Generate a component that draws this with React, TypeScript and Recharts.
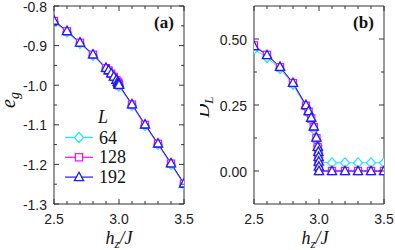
import React from 'react';
import { LineChart, Line, XAxis, YAxis, Legend } from 'recharts';

// ---------- data ----------
const hz = [2.5, 2.6, 2.7, 2.8, 2.9, 2.92, 2.94, 2.96, 2.98, 2.99, 2.995, 2.997, 2.998, 2.999, 3.0, 3.1, 3.2, 3.3, 3.4, 3.5];
const sizeNames = ['64', '128', '192'];

const eg64 = [-0.84, -0.866, -0.895, -0.925, -0.959, -0.966, -0.973, -0.981, -0.989, -0.994, -0.997, -0.999, -1.0, -1.001, -1.002, -1.051, -1.102, -1.15, -1.2, -1.251];
const eg128 = [-0.838, -0.864, -0.893, -0.923, -0.957, -0.963, -0.971, -0.979, -0.987, -0.992, -0.995, -0.997, -0.998, -0.999, -1.0, -1.049, -1.1, -1.148, -1.198, -1.249];
const eg192 = [-0.837, -0.863, -0.892, -0.922, -0.956, -0.962, -0.97, -0.978, -0.986, -0.991, -0.994, -0.996, -0.997, -0.998, -0.999, -1.048, -1.099, -1.147, -1.197, -1.248];

const dl64 = [0.461, 0.43, 0.388, 0.328, 0.242, 0.218, 0.192, 0.158, 0.118, 0.095, 0.08, 0.065, 0.05, 0.04, 0.033, 0.031, 0.031, 0.031, 0.031, 0.031];
const dl128 = [0.476, 0.44, 0.393, 0.333, 0.247, 0.225, 0.199, 0.166, 0.124, 0.09, 0.07, 0.052, 0.034, 0.015, 0.0, 0.0, 0.0, 0.0, 0.0, 0.0];
const dl192 = [0.473, 0.439, 0.395, 0.334, 0.25, 0.227, 0.202, 0.169, 0.127, 0.092, 0.073, 0.054, 0.036, 0.017, 0.0, 0.0, 0.0, 0.0, 0.0, 0.0];

const xTicks = [2.5, 2.6, 2.7, 2.8, 2.9, 3.0, 3.1, 3.2, 3.3, 3.4, 3.5];
const xMajor = [2.5, 3.0, 3.5];
const egTicks = [-1.3, -1.25, -1.2, -1.15, -1.1, -1.05, -1.0, -0.95, -0.9, -0.85, -0.8];
const egMajor = [-1.3, -1.2, -1.1, -1.0, -0.9, -0.8];
const dlTicks = [0, 0.125, 0.25, 0.375, 0.5];
const dlMajor = [0, 0.25, 0.5];

// ---------- build tables ----------
const egData = hz.map((h, i) => ({ hz: h, a: eg64[i], b: eg128[i], c: eg192[i] }));
const dlData = hz.map((h, i) => ({ hz: h, a: dl64[i], b: dl128[i], c: dl192[i] }));

// ---------- styles ----------
const CYAN = '#19e6ff';
const MAGENTA = '#f010f0';
const BLUE = '#1a1aff';
const AXIS = '#333';
const SANS = '"Liberation Sans", Arial, Helvetica, sans-serif';
const SERIF = '"Liberation Serif", "Times New Roman", serif';
const MARGIN = { top: 5, left: 53, right: 15, bottom: 45 };
const MARGIN_B = { top: 5, left: 53, right: 10, bottom: 45 };

const isIn = (v: number, arr: number[]) => arr.some((m) => Math.abs(m - v) < 1e-6);

const Diamond = ({ cx, cy }: { cx: number; cy: number }) => (
  <path d={`M${cx},${cy - 5}L${cx + 4.5},${cy}L${cx},${cy + 5}L${cx - 4.5},${cy}Z`} fill="#fff" stroke={CYAN} strokeWidth={1.2} />
);
const Square = ({ cx, cy }: { cx: number; cy: number }) => (
  <rect x={cx - 3.6} y={cy - 3.6} width={7.2} height={7.2} fill="#fff" stroke={MAGENTA} strokeWidth={1.2} />
);
const Triangle = ({ cx, cy }: { cx: number; cy: number }) => (
  <path d={`M${cx},${cy - 4.8}L${cx + 4.6},${cy + 3.6}L${cx - 4.6},${cy + 3.6}Z`} fill="#fff" stroke={BLUE} strokeWidth={1.3} />
);
const MARKERS = [Diamond, Square, Triangle];
const COLORS = [CYAN, MAGENTA, BLUE];

const makeDot = (k: number) => (p: any) => {
  const M = MARKERS[k];
  if (p.cx == null || p.cy == null) return <g key={`e${k}-${p.index}`} />;
  return (
    <g key={`d${k}-${p.index}`}>
      <M cx={p.cx} cy={p.cy} />
    </g>
  );
};

// ---------- ticks ----------
const makeBottomTick = (major: number[], fmt: (v: number) => string) => (p: any) => {
  const v = p.payload.value;
  const mj = isIn(v, major);
  return (
    <g>
      <line x1={p.x} x2={p.x} y1={p.y} y2={p.y - (mj ? 5 : 3)} stroke={AXIS} strokeWidth={1} />
      {mj && (
        <text x={p.x} y={p.y + 20} textAnchor="middle" fontFamily={SANS} fontSize={14} fill="#222">
          {fmt(v)}
        </text>
      )}
    </g>
  );
};
const makeTopTick = (major: number[]) => (p: any) => {
  const v = p.payload.value;
  const mj = isIn(v, major);
  return <line x1={p.x} x2={p.x} y1={p.y} y2={p.y + (mj ? 5 : 3)} stroke={AXIS} strokeWidth={1} />;
};
const makeLeftTick = (major: number[], fmt: (v: number) => string) => (p: any) => {
  const v = p.payload.value;
  const mj = isIn(v, major);
  return (
    <g>
      <line x1={p.x} x2={p.x + (mj ? 5 : 3)} y1={p.y} y2={p.y} stroke={AXIS} strokeWidth={1} />
      {mj && (
        <text x={p.x - 7} y={p.y + 5.5} textAnchor="end" fontFamily={SANS} fontSize={14} fill="#222">
          {fmt(v)}
        </text>
      )}
    </g>
  );
};
const makeRightTick = (major: number[]) => (p: any) => {
  const v = p.payload.value;
  const mj = isIn(v, major);
  return <line x1={p.x} x2={p.x - (mj ? 5 : 3)} y1={p.y} y2={p.y} stroke={AXIS} strokeWidth={1} />;
};

const fmt1 = (v: number) => v.toFixed(1);
const fmt2 = (v: number) => v.toFixed(2);

// ---------- legend ----------
const renderLegend = (props: any) => {
  const items = [...(props.payload || [])].sort(
    (p: any, q: any) => sizeNames.indexOf(String(p.value)) - sizeNames.indexOf(String(q.value))
  );
  return (
    <svg width={80} height={84} style={{ overflow: 'visible', display: 'block' }}>
      <text x={36} y={19} fontFamily={SERIF} fontStyle="italic" fontSize={18} fill="#111">
        L
      </text>
      {items.map((it: any, i: number) => {
        const k = sizeNames.indexOf(String(it.value));
        const y = 33.5 + i * 19.8;
        const M = MARKERS[k];
        return (
          <g key={`lg${i}`}>
            <line x1={3} x2={31} y1={y} y2={y} stroke={COLORS[k]} strokeWidth={1.2} />
            <M cx={17} cy={y} />
            <text x={37} y={y + 6} fontFamily={SERIF} fontSize={18} fill="#111">
              {it.value}
            </text>
          </g>
        );
      })}
    </svg>
  );
};

const series = (k: 'a' | 'b' | 'c', i: number) => (
  <Line
    key={k}
    dataKey={k}
    name={sizeNames[i]}
    type="linear"
    stroke={COLORS[i]}
    strokeWidth={1}
    dot={makeDot(i)}
    activeDot={false}
    isAnimationActive={false}
    legendType="line"
  />
);

const axesFor = (domain: [number, number], yTicks: number[], yMajor: number[], yFmt: (v: number) => string) => [
  <XAxis key="xb" dataKey="hz" type="number" domain={[2.5, 3.5]} ticks={xTicks} interval={0} height={1} tickSize={0} tickMargin={0}
    tick={makeBottomTick(xMajor, fmt1)} tickLine={false} axisLine={{ stroke: AXIS }} allowDataOverflow />,
  <XAxis key="xt" xAxisId="top" orientation="top" dataKey="hz" type="number" domain={[2.5, 3.5]} ticks={xTicks} interval={0} height={1}
    tickSize={0} tickMargin={0} tick={makeTopTick(xMajor)} tickLine={false} axisLine={{ stroke: AXIS }} allowDataOverflow />,
  <YAxis key="yl" type="number" domain={domain} ticks={yTicks} interval={0} width={1} tickSize={0} tickMargin={0}
    tick={makeLeftTick(yMajor, yFmt)} tickLine={false} axisLine={{ stroke: AXIS }} allowDataOverflow />,
  <YAxis key="yr" yAxisId="right" orientation="right" type="number" domain={domain} ticks={yTicks} interval={0} width={1}
    tickSize={0} tickMargin={0} tick={makeRightTick(yMajor)} tickLine={false} axisLine={{ stroke: AXIS }} allowDataOverflow />,
];

export default function App() {
  return (
    <div style={{ position: 'absolute', left: 0, top: 0, width: 395, height: 250, background: '#fff' }}>
      {/* Panel (a) */}
      <div style={{ position: 'absolute', left: 0, top: 0, width: 200, height: 250 }}>
        <LineChart width={200} height={250} data={egData} margin={MARGIN}>
          {axesFor([-1.3, -0.8], egTicks, egMajor, fmt1)}
          {series('a', 0)}
          {series('b', 1)}
          {series('c', 2)}
          <Legend layout="vertical" align="center" verticalAlign="middle" content={renderLegend}
            wrapperStyle={{ left: 62, top: 104, width: 80, height: 84 }} />
        </LineChart>
        <svg width={200} height={250} style={{ position: 'absolute', left: 0, top: 0, pointerEvents: 'none' }}>
          <text x={164} y={28} textAnchor="middle" fontFamily={SERIF} fontWeight="bold" fontSize={17} fill="#111">(a)</text>
          <text transform="translate(14.5,100) rotate(-90)" textAnchor="middle" fontFamily={SERIF} fontStyle="italic" fontSize={20} fill="#111">
            e<tspan fontSize={14} dy={4}>g</tspan>
          </text>
          <text x={119} y={244} textAnchor="middle" fontFamily={SERIF} fontStyle="italic" fontSize={18} fill="#111">
            h<tspan fontSize={13} dy={4}>z</tspan><tspan dy={-4}>/J</tspan>
          </text>
        </svg>
      </div>

      {/* Panel (b) */}
      <div style={{ position: 'absolute', left: 200, top: 0, width: 195, height: 250 }}>
        <LineChart width={195} height={250} data={dlData} margin={MARGIN_B}>
          {axesFor([-0.125, 0.625], dlTicks, dlMajor, fmt2)}
          {series('a', 0)}
          {series('b', 1)}
          {series('c', 2)}
        </LineChart>
        <svg width={195} height={250} style={{ position: 'absolute', left: 0, top: 0, pointerEvents: 'none' }}>
          <text x={163.5} y={28} textAnchor="middle" fontFamily={SERIF} fontWeight="bold" fontSize={17} fill="#111">(b)</text>
          <text transform="translate(9,107) rotate(-90)" textAnchor="middle" fontFamily={SERIF} fontStyle="italic" fontSize={19} fill="#111">
            D<tspan fontSize={13} dy={4}>L</tspan>
          </text>
          <text x={115} y={244} textAnchor="middle" fontFamily={SERIF} fontStyle="italic" fontSize={18} fill="#111">
            h<tspan fontSize={13} dy={4}>z</tspan><tspan dy={-4}>/J</tspan>
          </text>
        </svg>
      </div>
    </div>
  );
}
